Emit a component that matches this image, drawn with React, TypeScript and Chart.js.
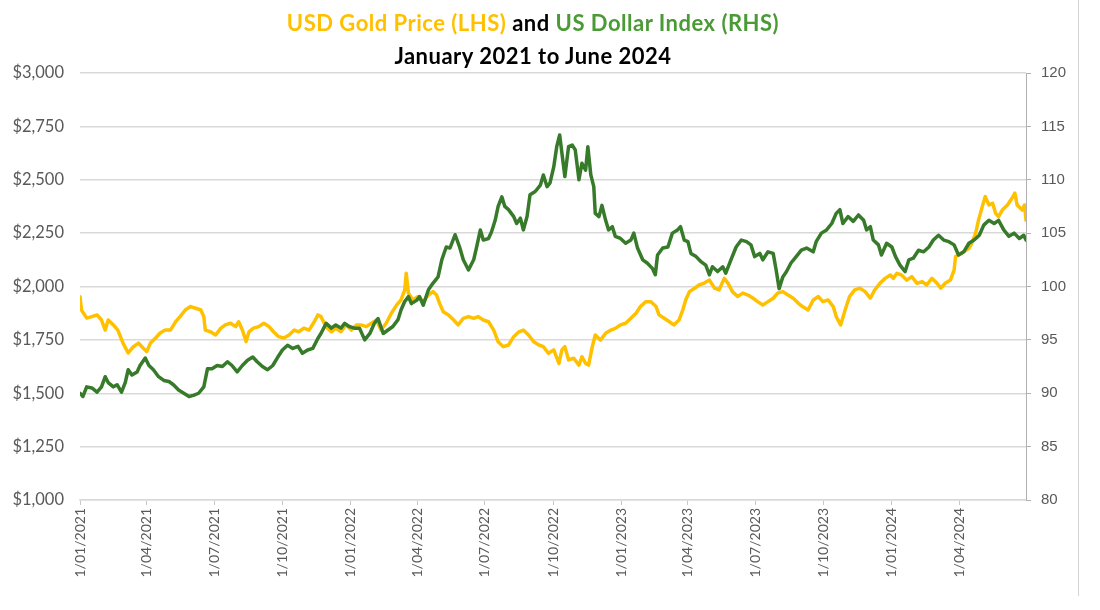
import React, { useEffect, useRef } from "react";
import { Chart, registerables } from "chart.js";

Chart.register(...registerables);

// Days since 1 January 2021 for each gold reading
const goldDays = [
  0, 2, 9, 16, 23, 29, 34, 38, 45, 51, 58, 65, 72, 79, 85, 90, 95, 102, 108, 115,
  122, 129, 135, 142, 149, 156, 163, 167, 169, 176, 183, 190, 196, 203, 210, 214, 219, 224, 228, 234,
  241, 248, 255, 261, 268, 275, 282, 289, 295, 302, 309, 316, 321, 325, 332, 339, 345, 352, 359, 366,
  373, 379, 386, 393, 400, 406, 413, 420, 427, 433, 438, 440, 443, 449, 456, 463, 470, 476, 481, 485,
  490, 497, 504, 510, 517, 524, 531, 537, 544, 551, 558, 564, 571, 578, 585, 592, 598, 605, 612, 619,
  625, 632, 639, 646, 650, 654, 659, 666, 673, 677, 682, 686, 691, 695, 702, 709, 716, 722, 729, 736,
  743, 750, 756, 763, 770, 777, 781, 788, 795, 801, 808, 813, 817, 822, 829, 835, 842, 849, 856, 862,
  869, 874, 880, 887, 894, 901, 908, 914, 921, 928, 935, 941, 948, 955, 962, 969, 975, 982, 989, 996,
  1002, 1009, 1016, 1020, 1026, 1032, 1038, 1045, 1052, 1059, 1066, 1072, 1079, 1086, 1093, 1097, 1102, 1108, 1115, 1122,
  1129, 1136, 1142, 1149, 1156, 1161, 1167, 1174, 1179, 1181, 1185, 1192, 1199, 1203, 1208, 1212, 1217, 1221, 1226, 1231,
  1235, 1239, 1244, 1251, 1257, 1261, 1264, 1271, 1274, 1276,
];
// USD gold price (LHS)
const goldPrice = [
  1952, 1890, 1852, 1859, 1867, 1843, 1796, 1843, 1820, 1796, 1735, 1689, 1718, 1735, 1712, 1695, 1735, 1759, 1782, 1796,
  1796, 1835, 1859, 1890, 1906, 1898, 1890, 1859, 1796, 1788, 1773, 1805, 1820, 1828, 1812, 1835, 1796, 1742, 1788, 1805,
  1812, 1828, 1812, 1788, 1765, 1759, 1773, 1796, 1788, 1805, 1796, 1835, 1867, 1859, 1812, 1788, 1804, 1788, 1820, 1796,
  1820, 1820, 1812, 1828, 1843, 1796, 1828, 1875, 1913, 1937, 1984, 2062, 1969, 1937, 1953, 1929, 1960, 1976, 1960, 1921,
  1882, 1867, 1843, 1820, 1851, 1859, 1851, 1859, 1843, 1835, 1796, 1741, 1718, 1726, 1765, 1788, 1796, 1773, 1741, 1726,
  1718, 1687, 1703, 1640, 1703, 1718, 1656, 1664, 1632, 1671, 1640, 1632, 1718, 1773, 1749, 1781, 1796, 1804, 1820, 1828,
  1851, 1875, 1906, 1929, 1929, 1906, 1867, 1851, 1835, 1820, 1843, 1890, 1937, 1976, 1992, 2007, 2016, 2030, 1992, 1984,
  2038, 2016, 1976, 1953, 1969, 1960, 1945, 1929, 1913, 1929, 1945, 1969, 1976, 1960, 1945, 1921, 1905, 1890, 1937, 1953,
  1929, 1937, 1906, 1859, 1820, 1890, 1953, 1984, 1992, 1976, 1945, 1984, 2015, 2038, 2054, 2038, 2062, 2054, 2030, 2046,
  2015, 2023, 2007, 2038, 2015, 1992, 2015, 2030, 2077, 2140, 2148, 2163, 2179, 2203, 2249, 2311, 2374, 2421, 2382, 2390,
  2343, 2327, 2358, 2382, 2413, 2437, 2382, 2358, 2382, 2310,
];

// Days since 1 January 2021 for each US Dollar Index reading
const dxyDays = [
  0, 4, 9, 16, 23, 29, 34, 38, 45, 50, 56, 61, 65, 70, 77, 81, 88, 93, 99, 106,
  113, 120, 126, 133, 140, 147, 153, 160, 167, 172, 178, 185, 192, 199, 205, 212, 219, 226, 233, 239,
  246, 253, 260, 266, 273, 280, 287, 294, 300, 307, 314, 321, 325, 332, 339, 345, 352, 357, 363, 370,
  377, 384, 391, 397, 402, 409, 415, 422, 429, 433, 438, 443, 447, 454, 458, 463, 470, 476, 483, 488,
  494, 499, 506, 512, 517, 524, 531, 535, 540, 544, 551, 555, 560, 564, 569, 573, 578, 585, 589, 594,
  598, 603, 607, 614, 621, 625, 630, 634, 639, 643, 647, 650, 654, 659, 664, 668, 673, 677, 682, 685,
  689, 693, 695, 700, 704, 709, 713, 718, 722, 729, 736, 743, 747, 752, 759, 765, 772, 776, 779, 786,
  793, 799, 806, 810, 815, 820, 824, 831, 838, 844, 849, 853, 860, 867, 871, 878, 885, 892, 899, 905,
  910, 917, 921, 928, 935, 939, 943, 948, 953, 959, 966, 973, 980, 989, 993, 1000, 1007, 1014, 1020, 1025,
  1029, 1036, 1043, 1050, 1057, 1061, 1066, 1070, 1077, 1081, 1088, 1095, 1100, 1106, 1113, 1118, 1124, 1131, 1138, 1145,
  1151, 1158, 1165, 1172, 1179, 1185, 1192, 1199, 1206, 1213, 1219, 1226, 1233, 1239, 1246, 1253, 1260, 1267, 1273, 1276,
];
// US Dollar Index (RHS)
const dxyValue = [
  90.0, 89.7, 90.6, 90.5, 90.1, 90.6, 91.55, 91.0, 90.6, 90.8, 90.1, 91.0, 92.2, 91.7, 92.0, 92.6, 93.3, 92.6, 92.2, 91.55,
  91.2, 91.1, 90.8, 90.3, 90.0, 89.7, 89.8, 90.0, 90.6, 92.3, 92.3, 92.6, 92.5, 92.95, 92.6, 92.0, 92.6, 93.1, 93.4, 92.95,
  92.5, 92.2, 92.6, 93.3, 94.05, 94.5, 94.2, 94.4, 93.75, 94.05, 94.2, 95.15, 95.6, 96.55, 96.1, 96.4, 96.1, 96.55, 96.25, 96.1,
  96.1, 95.0, 95.6, 96.55, 97.0, 95.6, 95.9, 96.25, 96.9, 97.8, 98.6, 99.05, 98.4, 98.7, 99.05, 98.25, 99.7, 100.3, 100.9, 102.5,
  103.7, 103.6, 104.85, 103.7, 102.5, 101.55, 102.5, 103.7, 105.3, 104.35, 104.5, 105.1, 106.2, 107.5, 108.4, 107.5, 107.2, 106.55, 105.9, 106.4,
  105.3, 106.55, 108.6, 108.9, 109.5, 110.45, 109.35, 109.7, 111.2, 113.1, 114.2, 112.5, 110.3, 113.1, 113.25, 112.8, 110.0, 111.55, 110.9, 113.1,
  110.45, 109.35, 106.85, 106.55, 107.6, 106.2, 105.3, 105.6, 104.7, 104.5, 104.05, 104.35, 105.0, 103.6, 102.5, 102.2, 101.7, 101.1, 102.95, 103.6,
  103.7, 105.0, 105.3, 105.6, 104.35, 104.2, 103.1, 102.8, 102.3, 102.0, 101.1, 101.85, 101.4, 101.85, 101.25, 102.5, 103.7, 104.35, 104.2, 103.9,
  102.8, 103.1, 102.5, 103.25, 103.1, 101.55, 99.8, 100.9, 101.4, 102.2, 102.8, 103.4, 103.6, 103.25, 104.2, 105.0, 105.3, 105.9, 106.85, 107.2,
  105.9, 106.55, 106.1, 106.7, 106.2, 105.3, 105.6, 104.35, 103.9, 102.95, 104.05, 103.7, 102.8, 102.0, 101.4, 102.5, 102.65, 103.4, 103.25, 103.7,
  104.35, 104.8, 104.35, 104.2, 103.9, 102.95, 103.25, 104.05, 104.35, 104.8, 105.75, 106.2, 105.9, 106.2, 105.3, 104.7, 105.0, 104.5, 104.8, 104.35,
];

const xTickDays = [0, 90, 181, 273, 365, 455, 546, 638, 730, 820, 911, 1003, 1095, 1186];
const xTickLabels = [
  "1/01/2021", "1/04/2021", "1/07/2021", "1/10/2021", "1/01/2022", "1/04/2022", "1/07/2022",
  "1/10/2022", "1/01/2023", "1/04/2023", "1/07/2023", "1/10/2023", "1/01/2024", "1/04/2024",
];

const GOLD = "#FFC000";
const GREEN_LINE = "#367A2A";
const GREEN_TEXT = "#4A9A36";

export default function App() {
  const canvasRef = useRef<HTMLCanvasElement | null>(null);

  useEffect(() => {
    const canvas = canvasRef.current;
    if (!canvas) return;
    const chart = new Chart(canvas, {
      type: "line",
      data: {
        datasets: [
          {
            label: "US Dollar Index (RHS)",
            data: dxyDays.map((d, i) => ({ x: d, y: dxyValue[i] })),
            borderColor: GREEN_LINE,
            borderWidth: 3.5,
            pointRadius: 0,
            tension: 0,
            yAxisID: "y1",
            order: 0,
          },
          {
            label: "USD Gold Price (LHS)",
            data: goldDays.map((d, i) => ({ x: d, y: goldPrice[i] })),
            borderColor: GOLD,
            borderWidth: 3.5,
            pointRadius: 0,
            tension: 0,
            yAxisID: "y",
            order: 1,
          },
        ],
      },
      options: {
        responsive: false,
        animation: false,
        events: [],
        layout: { padding: { top: 73, right: 0, bottom: 0, left: 0 } },
        plugins: {
          legend: { display: false },
          tooltip: { enabled: false },
          title: { display: false },
        },
        elements: { line: { borderJoinStyle: "round", borderCapStyle: "round" } },
        scales: {
          x: {
            type: "linear",
            min: 0,
            max: 1276,
            afterBuildTicks: (scale: any) => {
              scale.ticks = xTickDays.map((v) => ({ value: v }));
            },
            afterFit: (scale: any) => {
              scale.height = 110;
            },
            grid: {
              drawOnChartArea: false,
              drawTicks: true,
              tickLength: 5,
              color: "#C8C8C8",
            },
            border: { display: true, color: "#D9D9D9", width: 1.5 },
            ticks: {
              autoSkip: false,
              maxRotation: 90,
              minRotation: 90,
              padding: 3,
              color: "#595959",
              font: { family: "Lato", size: 14 },
              callback: (_v: any, i: number) => xTickLabels[i],
            },
          },
          y: {
            position: "left",
            min: 1000,
            max: 3000,
            afterFit: (scale: any) => {
              scale.width = 80;
            },
            grid: { color: "#D9D9D9", lineWidth: 1.5, drawTicks: false },
            border: { display: false },
            ticks: {
              stepSize: 250,
              padding: 16,
              color: "#595959",
              font: { family: "Lato", size: 16.5 },
              callback: (v: any) => "$" + Number(v).toLocaleString("en-US"),
            },
          },
          y1: {
            position: "right",
            min: 80,
            max: 120,
            afterFit: (scale: any) => {
              scale.width = 74;
            },
            grid: { drawOnChartArea: false, drawTicks: true, tickLength: 5, color: "#B0B0B0" },
            border: { display: true, color: "#B0B0B0", width: 1 },
            ticks: {
              stepSize: 5,
              padding: 10,
              color: "#595959",
              font: { family: "Liberation Sans", size: 15 },
            },
          },
        },
      },
    });
    return () => chart.destroy();
  }, []);

  return (
    <div style={{ position: "fixed", left: 0, top: 0, width: 1100, height: 610, background: "#fff" }}>
      <canvas ref={canvasRef} width={1100} height={610} style={{ position: "absolute", left: 0, top: 0 }} />
      <div
        style={{
          position: "absolute",
          left: 0,
          top: 6,
          width: 1066,
          textAlign: "center",
          fontFamily: "Lato, sans-serif",
          fontWeight: 700,
          fontSize: 22,
          letterSpacing: "0.5px",
          lineHeight: "33px",
          color: "#000",
        }}
      >
        <div>
          <span style={{ color: GOLD }}>USD Gold Price (LHS)</span> and{" "}
          <span style={{ color: GREEN_TEXT }}>US Dollar Index (RHS)</span>
        </div>
        <div>January 2021 to June 2024</div>
      </div>
      <div
        style={{
          position: "absolute",
          left: 1078,
          top: 0,
          width: 0,
          height: 596,
          borderLeft: "1px solid #D4D4D4",
        }}
      />
    </div>
  );
}
